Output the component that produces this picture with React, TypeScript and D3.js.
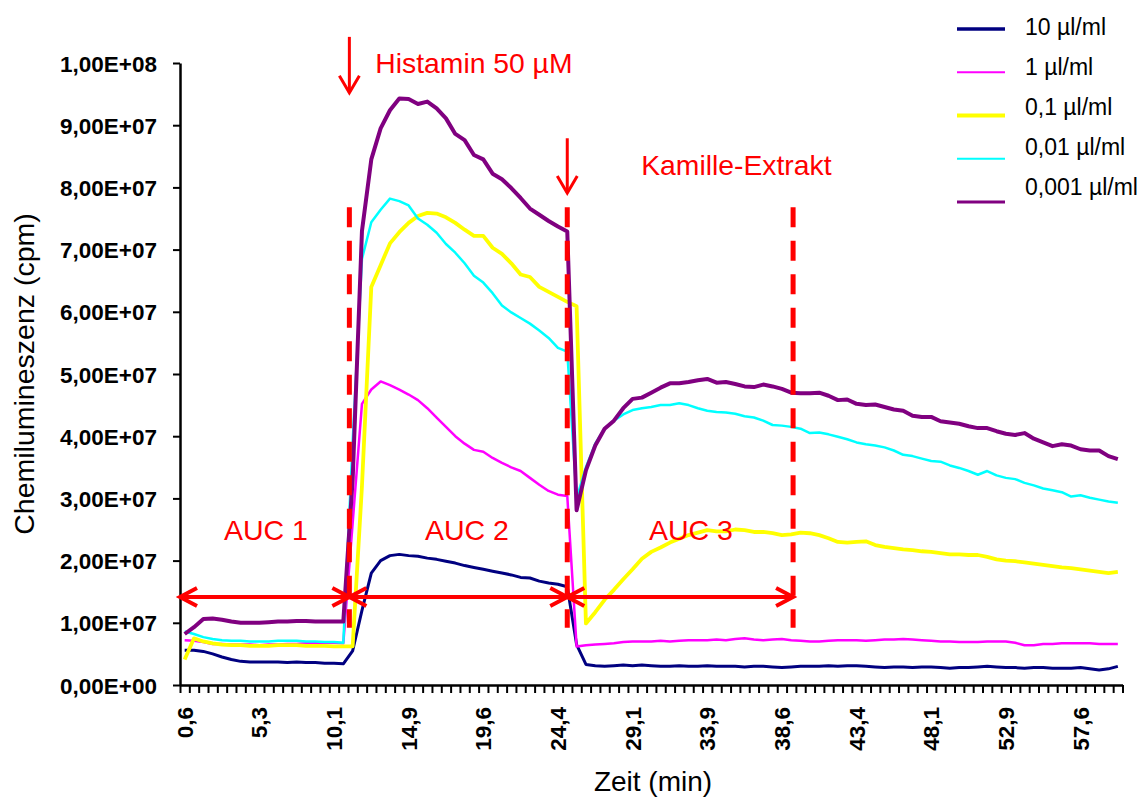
import * as d3 from "d3";
import {useEffect, useRef} from "react";

// x axis: one category per measurement, a label on every 8th
const tickLabels = ["0,6", "5,3", "10,1", "14,9", "19,6", "24,4", "29,1", "33,9", "38,6", "43,4", "48,1", "52,9", "57,6"];
const labelEvery = 8;

const yTicks = [0, 1e7, 2e7, 3e7, 4e7, 5e7, 6e7, 7e7, 8e7, 9e7, 1e8];
const yTickLabels = ["0,00E+00", "1,00E+07", "2,00E+07", "3,00E+07", "4,00E+07", "5,00E+07",
  "6,00E+07", "7,00E+07", "8,00E+07", "9,00E+07", "1,00E+08"];

// chemiluminescence in units of 1E+07 cpm
const s10 = [
  0.56, 0.56, 0.54, 0.50, 0.45, 0.41, 0.38, 0.37, 0.37, 0.37,
  0.37, 0.36, 0.37, 0.36, 0.36, 0.35, 0.35, 0.34, 0.55, 1.20,
  1.80, 2.00, 2.08, 2.10, 2.08, 2.07, 2.04, 2.02, 1.99, 1.96,
  1.92, 1.89, 1.86, 1.83, 1.80, 1.77, 1.73, 1.72, 1.67, 1.64,
  1.62, 1.58, 0.65, 0.33, 0.31, 0.30, 0.31, 0.32, 0.31, 0.32,
  0.31, 0.30, 0.30, 0.31, 0.30, 0.30, 0.31, 0.30, 0.30, 0.30,
  0.29, 0.30, 0.30, 0.29, 0.28, 0.29, 0.30, 0.30, 0.30, 0.31,
  0.30, 0.31, 0.31, 0.30, 0.29, 0.28, 0.29, 0.29, 0.28, 0.29,
  0.29, 0.28, 0.27, 0.28, 0.28, 0.29, 0.30, 0.29, 0.28, 0.28,
  0.27, 0.28, 0.28, 0.27, 0.27, 0.27, 0.28, 0.26, 0.24, 0.26,
  0.30];
const s1 = [
  0.72, 0.71, 0.69, 0.66, 0.66, 0.65, 0.65, 0.65, 0.64, 0.65,
  0.65, 0.66, 0.66, 0.67, 0.67, 0.68, 0.68, 0.67, 2.60, 4.52,
  4.75, 4.88, 4.82, 4.75, 4.67, 4.58, 4.45, 4.30, 4.15, 4.00,
  3.88, 3.78, 3.75, 3.65, 3.57, 3.50, 3.44, 3.33, 3.22, 3.12,
  3.06, 3.04, 0.62, 0.64, 0.65, 0.66, 0.67, 0.69, 0.70, 0.70,
  0.70, 0.71, 0.70, 0.71, 0.72, 0.72, 0.72, 0.73, 0.72, 0.74,
  0.75, 0.73, 0.72, 0.73, 0.74, 0.72, 0.71, 0.70, 0.70, 0.71,
  0.72, 0.72, 0.72, 0.71, 0.72, 0.73, 0.73, 0.74, 0.73, 0.72,
  0.71, 0.70, 0.70, 0.69, 0.69, 0.69, 0.70, 0.70, 0.70, 0.68,
  0.64, 0.64, 0.66, 0.66, 0.67, 0.67, 0.67, 0.67, 0.66, 0.66,
  0.66];
const s01 = [
  0.41, 0.75, 0.70, 0.67, 0.65, 0.64, 0.64, 0.63, 0.63, 0.63,
  0.64, 0.64, 0.64, 0.63, 0.63, 0.63, 0.62, 0.62, 0.62, 3.20,
  6.40, 6.75, 7.10, 7.28, 7.43, 7.54, 7.59, 7.58, 7.52, 7.43,
  7.32, 7.22, 7.22, 7.03, 6.93, 6.78, 6.60, 6.56, 6.40, 6.32,
  6.24, 6.16, 6.09, 0.99, 1.17, 1.37, 1.53, 1.70, 1.86, 2.03,
  2.14, 2.21, 2.29, 2.35, 2.41, 2.45, 2.49, 2.47, 2.47, 2.50,
  2.49, 2.46, 2.46, 2.44, 2.41, 2.42, 2.45, 2.44, 2.41, 2.36,
  2.30, 2.29, 2.30, 2.31, 2.25, 2.22, 2.20, 2.18, 2.17, 2.15,
  2.14, 2.12, 2.10, 2.10, 2.09, 2.09, 2.06, 2.02, 2.00, 1.99,
  1.97, 1.95, 1.93, 1.91, 1.89, 1.88, 1.86, 1.84, 1.82, 1.80,
  1.82];
const s001 = [
  0.86, 0.82, 0.77, 0.74, 0.72, 0.71, 0.71, 0.70, 0.70, 0.70,
  0.71, 0.71, 0.71, 0.70, 0.70, 0.69, 0.69, 0.68, 3.90, 6.85,
  7.44, 7.64, 7.82, 7.78, 7.71, 7.50, 7.40, 7.27, 7.09, 6.95,
  6.78, 6.58, 6.47, 6.30, 6.10, 5.99, 5.90, 5.81, 5.70, 5.58,
  5.42, 5.36, 3.00, 3.50, 3.88, 4.12, 4.25, 4.35, 4.42, 4.45,
  4.47, 4.50, 4.50, 4.53, 4.50, 4.45, 4.41, 4.39, 4.38, 4.36,
  4.32, 4.30, 4.25, 4.18, 4.17, 4.15, 4.12, 4.05, 4.06, 4.03,
  3.99, 3.95, 3.90, 3.87, 3.85, 3.82, 3.77, 3.70, 3.68, 3.64,
  3.60, 3.59, 3.53, 3.49, 3.44, 3.38, 3.44, 3.37, 3.33, 3.31,
  3.25, 3.21, 3.16, 3.13, 3.10, 3.03, 3.05, 3.01, 2.98, 2.95,
  2.93];
const s0001 = [
  0.82, 0.93, 1.06, 1.07, 1.05, 1.02, 1.00, 1.00, 1.00, 1.01,
  1.02, 1.02, 1.03, 1.03, 1.02, 1.02, 1.02, 1.02, 3.30, 7.30,
  8.45, 8.95, 9.24, 9.43, 9.42, 9.34, 9.38, 9.27, 9.11, 8.86,
  8.76, 8.52, 8.45, 8.22, 8.13, 7.99, 7.83, 7.66, 7.56, 7.46,
  7.37, 7.29, 2.81, 3.45, 3.85, 4.12, 4.25, 4.45, 4.60, 4.62,
  4.70, 4.78, 4.85, 4.85, 4.87, 4.90, 4.92, 4.86, 4.87, 4.84,
  4.80, 4.79, 4.83, 4.80, 4.76, 4.70, 4.69, 4.69, 4.70, 4.65,
  4.58, 4.59, 4.52, 4.50, 4.51, 4.47, 4.43, 4.41, 4.33, 4.31,
  4.31, 4.24, 4.22, 4.20, 4.16, 4.13, 4.13, 4.08, 4.04, 4.02,
  4.05, 3.96, 3.90, 3.84, 3.87, 3.85, 3.79, 3.77, 3.77, 3.68,
  3.63];

const series = [s10, s1, s01, s001, s0001];
const seriesNames = ["10 µl/ml", "1 µl/ml", "0,1 µl/ml", "0,01 µl/ml", "0,001 µl/ml"];
const seriesColors = ["#000080", "#ff00ff", "#ffff00", "#00ffff", "#800080"];
const lineWidths = [3, 2.5, 3.8, 2.5, 4];
const legendWidths = [3.5, 2, 4, 2, 3];

// events, as category positions
const histaminAt = 17.65;
const extraktAt = 41;
const auc3End = 65.2;
const arrowLevel = 1.415e7;
const dashTop = 7.68e7;
const dashBottom = 0.92e7;

function App() {
  const ref = useRef<SVGSVGElement>(null);

  useEffect(() => {
    const svg = d3.select(ref.current);
    svg.selectAll("*").remove();

    const font = "'Liberation Sans', Arial, sans-serif";
    const red = "#ff0000";
    const n = s10.length;

    const x = d3.scaleLinear().domain([-0.5, n - 0.5]).range([180, 1122.5]);
    const y = d3.scaleLinear().domain([0, 1e8]).range([685, 63]);

    // y axis
    const yAxis = svg.append("g")
      .attr("transform", "translate(180,0)")
      .call(d3.axisLeft(y)
        .tickValues(yTicks)
        .tickFormat((d, i) => yTickLabels[i])
        .tickSize(7)
        .tickSizeOuter(0)
        .tickPadding(16));
    yAxis.select(".domain").attr("stroke", "#000").attr("stroke-width", 2.5);
    yAxis.selectAll(".tick line").attr("stroke", "#000").attr("stroke-width", 2);
    yAxis.selectAll("text")
      .attr("fill", "#000")
      .attr("dy", "0.36em")
      .style("font-family", font)
      .style("font-weight", "bold")
      .style("font-size", "22.5px");

    // x axis, a tick between every two categories
    const xAxis = svg.append("g")
      .attr("transform", "translate(0,685)")
      .call(d3.axisBottom(x)
        .tickValues(d3.range(n + 1).map(i => i - 0.5))
        .tickFormat(() => "")
        .tickSize(8)
        .tickSizeOuter(0));
    xAxis.select(".domain").attr("stroke", "#000").attr("stroke-width", 2.5);
    xAxis.selectAll(".tick line").attr("stroke", "#000").attr("stroke-width", 2);

    svg.append("g")
      .selectAll("text")
      .data(tickLabels)
      .enter()
      .append("text")
        .attr("transform", (d, i) => "translate(" + x(i * labelEvery) + ",707) rotate(-90)")
        .attr("dy", "0.36em")
        .attr("text-anchor", "end")
        .style("font-family", font)
        .style("font-weight", "bold")
        .style("font-size", "22.5px")
        .text(d => d);

    // axis titles
    svg.append("text")
      .attr("x", 653)
      .attr("y", 791)
      .attr("text-anchor", "middle")
      .style("font-family", font)
      .style("font-size", "28px")
      .text("Zeit (min)");
    svg.append("text")
      .attr("transform", "translate(34,374) rotate(-90)")
      .attr("text-anchor", "middle")
      .style("font-family", font)
      .style("font-size", "28.5px")
      .text("Chemilumineszenz (cpm)");

    // lines
    const line = d3.line<number>()
      .x((d, i) => x(i))
      .y(d => y(d * 1e7));
    series.forEach((s, k) => {
      svg.append("path")
        .attr("d", line(s))
        .attr("fill", "none")
        .attr("stroke", seriesColors[k])
        .attr("stroke-width", lineWidths[k])
        .attr("stroke-linejoin", "round");
    });

    // legend
    const legend = svg.append("g");
    seriesNames.forEach((name, k) => {
      legend.append("line")
        .attr("x1", 957).attr("x2", 1005)
        .attr("y1", 29 + k * 43.25).attr("y2", 29 + k * 43.25)
        .attr("stroke", seriesColors[k])
        .attr("stroke-width", legendWidths[k]);
      legend.append("text")
        .attr("x", 1025)
        .attr("y", 35 + k * 40)
        .style("font-family", font)
        .style("font-size", "23px")
        .text(name);
    });

    // annotations
    const notes = svg.append("g");
    [histaminAt, extraktAt, auc3End].forEach(t => {
      notes.append("line")
        .attr("x1", x(t)).attr("x2", x(t))
        .attr("y1", y(dashTop)).attr("y2", y(dashBottom))
        .attr("stroke", red)
        .attr("stroke-width", 5)
        .attr("stroke-dasharray", "20,13.5");
    });

    const chevron = (tx, ty, dx, dy, len, half) =>
      "M" + (tx - dx * len - dy * half) + "," + (ty - dy * len - dx * half) +
      "L" + tx + "," + ty +
      "L" + (tx - dx * len + dy * half) + "," + (ty - dy * len + dx * half);

    const spans = [[-0.5, histaminAt], [histaminAt, extraktAt], [extraktAt, auc3End]];
    spans.forEach(([a, b]) => {
      const x1 = x(a), x2 = x(b), yy = y(arrowLevel);
      notes.append("line")
        .attr("x1", x1).attr("x2", x2)
        .attr("y1", yy).attr("y2", yy)
        .attr("stroke", red)
        .attr("stroke-width", 4);
      notes.append("path")
        .attr("d", chevron(x1, yy, -1, 0, 17, 9) + chevron(x2, yy, 1, 0, 17, 9))
        .attr("fill", "none")
        .attr("stroke", red)
        .attr("stroke-width", 4);
    });

    const drops = [[histaminAt, 10.42e7, 9.52e7], [extraktAt, 8.79e7, 7.91e7]];
    drops.forEach(([t, top, tip]) => {
      const xx = x(t);
      notes.append("line")
        .attr("x1", xx).attr("x2", xx)
        .attr("y1", y(top)).attr("y2", y(tip))
        .attr("stroke", red)
        .attr("stroke-width", 3);
      notes.append("path")
        .attr("d", chevron(xx, y(tip), 0, 1, 17, 10))
        .attr("fill", "none")
        .attr("stroke", red)
        .attr("stroke-width", 3);
    });

    const label = (tx, ty, size, anchor, txt) =>
      notes.append("text")
        .attr("x", tx)
        .attr("y", ty)
        .attr("text-anchor", anchor)
        .attr("fill", red)
        .style("font-family", font)
        .style("font-size", size + "px")
        .text(txt);

    label(x(histaminAt) + 26, 73, 28.3, "start", "Histamin 50 µM");
    label(x(extraktAt) + 74, 175, 28.3, "start", "Kamille-Extrakt");
    label(266, 540, 28.5, "middle", "AUC 1");
    label(467, 540, 28.5, "middle", "AUC 2");
    label(691, 540, 28.5, "middle", "AUC 3");
  }, []);

  return (
    <svg ref={ref} width={1141} height={798}
      style={{position: "absolute", left: 0, top: 0, background: "#fff"}} />
  );
}

export default App;
